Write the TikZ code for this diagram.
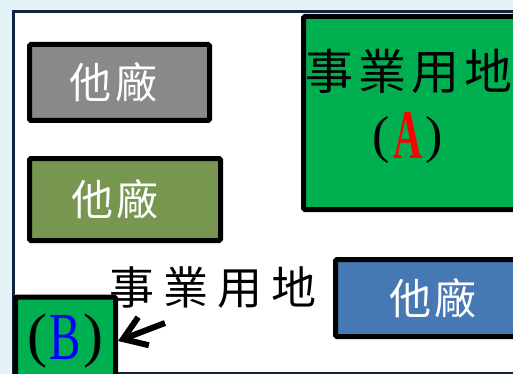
\documentclass[tikz,border=0pt]{standalone}
\usepackage{fontspec}
\usetikzlibrary{arrows.meta}
\newfontfamily\cjk{Noto Sans CJK TC}
\newfontfamily\latin{Liberation Serif}
\definecolor{paper}{RGB}{228,243,247}
\definecolor{navy}{RGB}{16,36,64}
\definecolor{lotgray}{RGB}{137,137,137}
\definecolor{lotolive}{RGB}{119,150,80}
\definecolor{lotgreen}{RGB}{0,176,80}
\definecolor{lotblue}{RGB}{70,120,180}
\begin{document}
\begin{tikzpicture}[x = 1pt, y = -1pt,
	lot/.style = {draw = black, line width = 5pt, rounded corners = 1.5pt, inner sep = 0pt},
	other/.style = {lot, text = white, font = \cjk\fontsize{42}{42}\selectfont},
	site/.style = {font = \cjk\fontsize{45}{45}\selectfont, inner sep = 0pt}]
	\useasboundingbox (0,0) rectangle (513,374);
	\clip (0,0) rectangle (513,374);
	\fill[paper] (0,0) rectangle (513,374); %outside
	\draw[navy, line width = 3pt, fill = white] (13,12) rectangle (560,373); %frame
	\node[other, fill = lotgray, minimum width = 180pt, minimum height = 76pt] (otherA) at (119.5,82.5) {他\hspace{4pt}廠\rule{12pt}{0pt}};
	\node[other, fill = lotolive, minimum width = 191pt, minimum height = 82pt] (otherB) at (125,199.5) {他\hspace{4pt}廠\rule{20pt}{0pt}};
	\node[other, fill = lotblue, minimum width = 195pt, minimum height = 77pt] (otherC) at (433,298) {他\hspace{4pt}廠};
	\node[lot, fill = lotgreen, minimum width = 256.5pt, minimum height = 193pt] (lotA) at (431.75,113) {};
	\node[site, font = \cjk\fontsize{48}{48}\selectfont, anchor = west] (siteA) at (305,71) {事\hspace{5pt}業\hspace{5pt}用\hspace{5pt}地};
	\node[inner sep = 0pt, font = \latin\fontsize{52}{52}\selectfont] (markA) at (408,138)
		{(\hspace{3pt}\textcolor{red}{\raisebox{-6pt}{\scalebox{1}[1.75]{\fontsize{40}{40}\selectfont\bfseries A}}}\hspace{4pt})};
	\node[lot, fill = lotgreen, minimum width = 100pt, minimum height = 88pt, font = \latin\fontsize{60}{60}\selectfont] (lotB) at (65.5,341)
		{(\hspace{2pt}\textcolor{blue}{\raisebox{-4pt}{\scalebox{1}[1.43]{\fontsize{47}{47}\selectfont B}}}\hspace{2pt})};
	\node[site] (siteB) at (213,287) {事\hspace{9pt}業\hspace{9pt}用\hspace{9pt}地};
	\coordinate (tail) at (165,323);
	\draw[line width = 6pt, -{Straight Barb[length = 22pt, width = 30pt]}] (tail) -- (lotB.east); %pointer
\end{tikzpicture}
\end{document}
